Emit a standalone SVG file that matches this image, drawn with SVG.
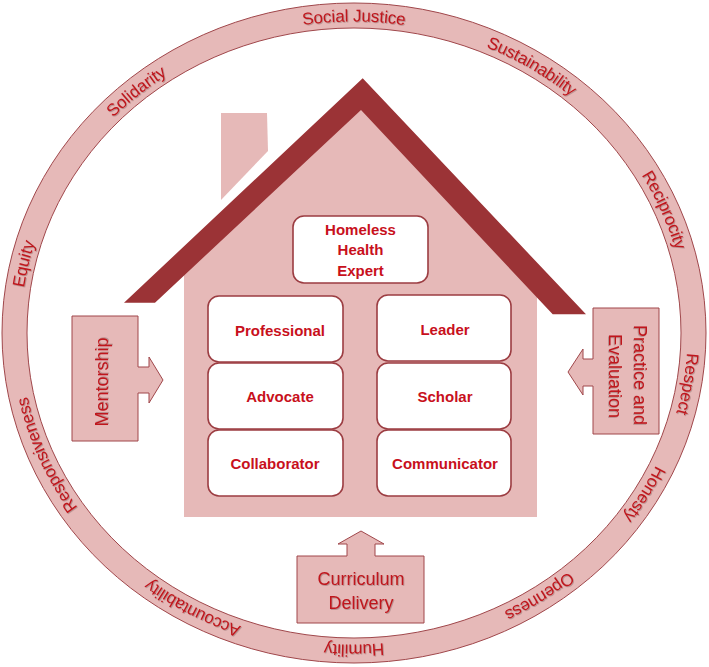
<svg xmlns="http://www.w3.org/2000/svg" width="709" height="667" viewBox="0 0 709 667">
<style>
.pink{fill:#e6b9b8;stroke:#a0474b;stroke-width:1}
.ringtxt{font-family:"Liberation Sans",Arial,sans-serif;font-size:17px;fill:#c0141c;filter:url(#shadow)}
.box{fill:#ffffff;stroke:#9c3d42;stroke-width:1.6}
.boxtxt{font-family:"Liberation Sans",Arial,sans-serif;font-size:15px;font-weight:bold;fill:#c8101c;text-anchor:middle}
.calltxt{font-family:"Liberation Sans",Arial,sans-serif;font-size:18px;fill:#c0141c;text-anchor:middle;dominant-baseline:central;filter:url(#shadow)}
</style>
<defs>
<path id="ringpath" d="M14.5,333 A339.5,317.5 0 0 1 693.5,333 A339.5,317.5 0 0 1 14.5,333"/>
<filter id="shadow" x="-10%" y="-30%" width="120%" height="160%">
<feDropShadow dx="0.8" dy="0.8" stdDeviation="0.6" flood-color="#6b4a4a" flood-opacity="0.45"/>
</filter>
</defs>
<rect width="709" height="667" fill="#ffffff"/>
<g id="values-ring">
<path class="pink" fill-rule="evenodd" d="M2,333 A352,330 0 1 1 706,333 A352,330 0 1 1 2,333 Z M27,333 A327,305 0 1 0 681,333 A327,305 0 1 0 27,333 Z"/>
<text class="ringtxt" text-anchor="middle" dominant-baseline="central"><textPath href="#ringpath" startOffset="3.4%">Equity</textPath></text>
<text class="ringtxt" text-anchor="middle" dominant-baseline="central"><textPath href="#ringpath" startOffset="13.6%">Solidarity</textPath></text>
<text class="ringtxt" text-anchor="middle" dominant-baseline="central"><textPath href="#ringpath" startOffset="25%">Social Justice</textPath></text>
<text class="ringtxt" text-anchor="middle" dominant-baseline="central"><textPath href="#ringpath" startOffset="34.1%">Sustainability</textPath></text>
<text class="ringtxt" text-anchor="middle" dominant-baseline="central"><textPath href="#ringpath" startOffset="43.8%">Reciprocity</textPath></text>
<text class="ringtxt" text-anchor="middle" dominant-baseline="central"><textPath href="#ringpath" startOffset="52.5%">Respect</textPath></text>
<text class="ringtxt" text-anchor="middle" dominant-baseline="central"><textPath href="#ringpath" startOffset="58.3%">Honesty</textPath></text>
<text class="ringtxt" text-anchor="middle" dominant-baseline="central"><textPath href="#ringpath" startOffset="65.5%">Openness</textPath></text>
<text class="ringtxt" text-anchor="middle" dominant-baseline="central"><textPath href="#ringpath" startOffset="75%">Humility</textPath></text>
<text class="ringtxt" text-anchor="middle" dominant-baseline="central"><textPath href="#ringpath" startOffset="83.2%">Accountability</textPath></text>
<text class="ringtxt" text-anchor="middle" dominant-baseline="central"><textPath href="#ringpath" startOffset="93.8%">Responsiveness</textPath></text>
</g>
<g id="house">
<polygon fill="#e6b9b8" points="221,113 267,113 268,151 221,200"/>
<polygon fill="#e6b9b8" points="184,517 184,272 361,106 537,293 537,517"/>
<polygon fill="#9b3336" points="124,302.7 362.7,78.3 586,314.3 552.7,314.3 361,110 155,302.7"/>
</g>
<g id="expert">
<rect class="box" x="293" y="216" width="135" height="67" rx="11"/>
<text class="boxtxt" x="360.5" y="235">Homeless</text>
<text class="boxtxt" x="360.5" y="255">Health</text>
<text class="boxtxt" x="360.5" y="275.5">Expert</text>
</g>
<g id="professional">
<rect class="box" x="208" y="296" width="135" height="66" rx="11"/>
<text class="boxtxt" x="280" y="336">Professional</text>
</g>
<g id="advocate">
<rect class="box" x="208" y="363" width="135" height="66" rx="11"/>
<text class="boxtxt" x="280" y="402">Advocate</text>
</g>
<g id="collaborator">
<rect class="box" x="208" y="430" width="135" height="66" rx="11"/>
<text class="boxtxt" x="275" y="469">Collaborator</text>
</g>
<g id="leader">
<rect class="box" x="377" y="295" width="134" height="66" rx="11"/>
<text class="boxtxt" x="445" y="335">Leader</text>
</g>
<g id="scholar">
<rect class="box" x="377" y="363" width="134" height="66" rx="11"/>
<text class="boxtxt" x="445" y="402">Scholar</text>
</g>
<g id="communicator">
<rect class="box" x="377" y="430" width="134" height="66" rx="11"/>
<text class="boxtxt" x="445" y="469">Communicator</text>
</g>
<g id="mentorship">
<polygon class="pink" points="72,316 138,316 138,367 149,367 149,357 163,380 149,403 149,393 138,393 138,441 72,441"/>
<text class="calltxt" transform="translate(102,382) rotate(-90)">Mentorship</text>
</g>
<g id="practice-evaluation">
<polygon class="pink" points="593,308 659,308 659,434 593,434 593,386 583,386 583,395 568,372 583,349 583,359 593,359"/>
<text class="calltxt" transform="translate(640,375) rotate(90)">Practice and</text>
<text class="calltxt" transform="translate(615,376) rotate(90)">Evaluation</text>
</g>
<g id="curriculum-delivery">
<polygon class="pink" points="297,556 347,556 347,544 338,544 361,531 384,544 375,544 375,556 424,556 424,623 297,623"/>
<text class="calltxt" x="361" y="579">Curriculum</text>
<text class="calltxt" x="361" y="603">Delivery</text>
</g>
<g id="connectors"></g>
</svg>
